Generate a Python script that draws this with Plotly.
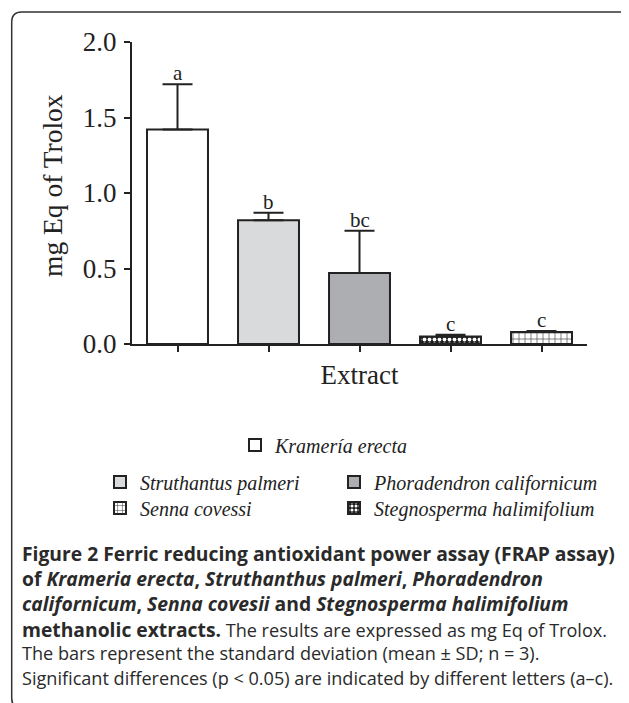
import plotly.graph_objects as go

# ---------------- data ----------------
species = ["Kramería erecta", "Struthantus palmeri", "Phoradendron californicum",
           "Stegnosperma halimifolium", "Senna covessi"]
means = [1.42, 0.82, 0.47, 0.05, 0.08]
sds = [0.30, 0.05, 0.28, 0.012, 0.006]
letters = ["a", "b", "bc", "c", "c"]
y_ticks = [0.0, 0.5, 1.0, 1.5, 2.0]

# ---------------- styles ----------------
fills = ["white", "#d9dadc", "#adaeb1", "#1c1c1c", "white"]
patterns = [None, None, None,
            dict(shape=".", fgcolor="white", bgcolor="#1c1c1c", size=5, solidity=0.45, fillmode="replace"),
            dict(shape="+", fgcolor="#222", bgcolor="white", size=6, solidity=0.18, fillmode="replace")]
legend_ids = ["legend", "legend2", "legend3", "legend5", "legend4"]
# legend anchor positions (reference pixels: left x, row centre y)
legend_pos = {"legend": (235, 445), "legend2": (100, 482), "legend3": (334, 482),
              "legend4": (100, 508), "legend5": (334, 508)}

W_PX, H_PX = 629, 703
OFF = 8  # page body margin
L, R, T, B = 132, 587, 42, 344  # plot area in reference-image pixels


def px(x):
    return (x - L) / (R - L)


def py(y):
    return (B - y) / (B - T)


SERIF = "Liberation Serif, Times New Roman, serif"
SANS = "Open Sans, sans-serif"

fig = go.Figure()
for i, name in enumerate(species):
    marker = dict(color=fills[i], line=dict(color="#222", width=2))
    if patterns[i]:
        marker["pattern"] = patterns[i]
    fig.add_trace(go.Bar(
        x=[name], y=[means[i]], name=name, width=0.67,
        marker=marker,
        error_y=dict(type="data", array=[sds[i]], arrayminus=[0], symmetric=False,
                     color="#222", thickness=2, width=15),
        legend=legend_ids[i],
    ))

for i, name in enumerate(species):
    fig.add_annotation(x=name, y=means[i] + sds[i], text=letters[i], showarrow=False,
                       yanchor="bottom", yshift=-3, xref="x", yref="y",
                       font=dict(family=SERIF, size=21, color="#222"))

# y-axis title
fig.add_annotation(x=px(52), y=py(186), xref="paper", yref="paper", text="mg Eq of Trolox",
                   textangle=-90, showarrow=False, xanchor="center", yanchor="middle",
                   font=dict(family=SERIF, size=27.5, color="#222"))


def bold(s):
    return f'<b><span style="font-size:19.3px">{s}</span></b>'


cap_lines = [
    bold("Figure 2 Ferric reducing antioxidant power assay (FRAP assay)"),
    bold("of <i>Krameria erecta</i>, <i>Struthanthus palmeri</i>, <i>Phoradendron</i>"),
    bold("<i>californicum</i>, <i>Senna covesii</i> and <i>Stegnosperma halimifolium</i>"),
    bold("methanolic extracts.") + " The results are expressed as mg Eq of Trolox.",
    "The bars represent the standard deviation (mean ± SD; n = 3).",
    "Significant differences (p &lt; 0.05) are indicated by different letters (a–c).",
]
cap_y = [553, 578, 603, 629, 653, 678]
for txt, yy in zip(cap_lines, cap_y):
    fig.add_annotation(x=px(20), y=py(yy), xref="paper", yref="paper", text=txt,
                       showarrow=False, xanchor="left", yanchor="middle",
                       font=dict(family=SANS, size=18.1, color="#2a2a2a"))

# rounded frame
x0, y0, rr, xr, yb = 11.7, 12, 10, 634, 708
path = (f"M {px(x0)},{py(yb - rr)} L {px(x0)},{py(y0 + rr)} "
        f"Q {px(x0)},{py(y0)} {px(x0 + rr)},{py(y0)} "
        f"L {px(xr - rr)},{py(y0)} Q {px(xr)},{py(y0)} {px(xr)},{py(y0 + rr)} "
        f"L {px(xr)},{py(yb - rr)} Q {px(xr)},{py(yb)} {px(xr - rr)},{py(yb)} "
        f"L {px(x0 + rr)},{py(yb)} Q {px(x0)},{py(yb)} {px(x0)},{py(yb - rr)} Z")
fig.add_shape(type="path", path=path, xref="paper", yref="paper",
              line=dict(color="#333", width=1.5), layer="below")
fig.add_shape(type="line", x0=px(126.5), x1=px(L), y0=0, y1=0, xref="paper", yref="paper",
              line=dict(color="#222", width=2))

legend_font = dict(family=SERIF, size=20, color="#222", style="italic")
legends = {}
for lid, (lx, ly) in legend_pos.items():
    legends[lid] = dict(x=px(lx), y=py(ly), xanchor="left", yanchor="middle",
                        orientation="h", font=legend_font, bgcolor="rgba(0,0,0,0)")

fig.update_layout(
    width=W_PX, height=H_PX,
    margin=dict(l=L - OFF, r=W_PX - (R - OFF), t=T - OFF, b=H_PX - (B - OFF), autoexpand=False),
    paper_bgcolor="white", plot_bgcolor="white",
    barmode="overlay",
    showlegend=True,
    **legends,
    xaxis=dict(type="category", categoryorder="array", categoryarray=species,
               range=[-0.5, 4.5], showticklabels=False, ticks="outside", ticklen=6,
               tickwidth=2, tickcolor="#222", showline=True, linecolor="#222", linewidth=2,
               showgrid=False, zeroline=False,
               title=dict(text="Extract", font=dict(family=SERIF, size=27, color="#222"),
                          standoff=14)),
    yaxis=dict(range=[0, 2.0], tickvals=y_ticks, tickformat=".1f", ticks="outside",
               ticklen=6, tickwidth=2, tickcolor="#222", showline=True, linecolor="#222",
               linewidth=2, showgrid=False, zeroline=False, ticklabelstandoff=2,
               tickfont=dict(family=SERIF, size=27, color="#222")),
)

fig.write_html("out.html")
